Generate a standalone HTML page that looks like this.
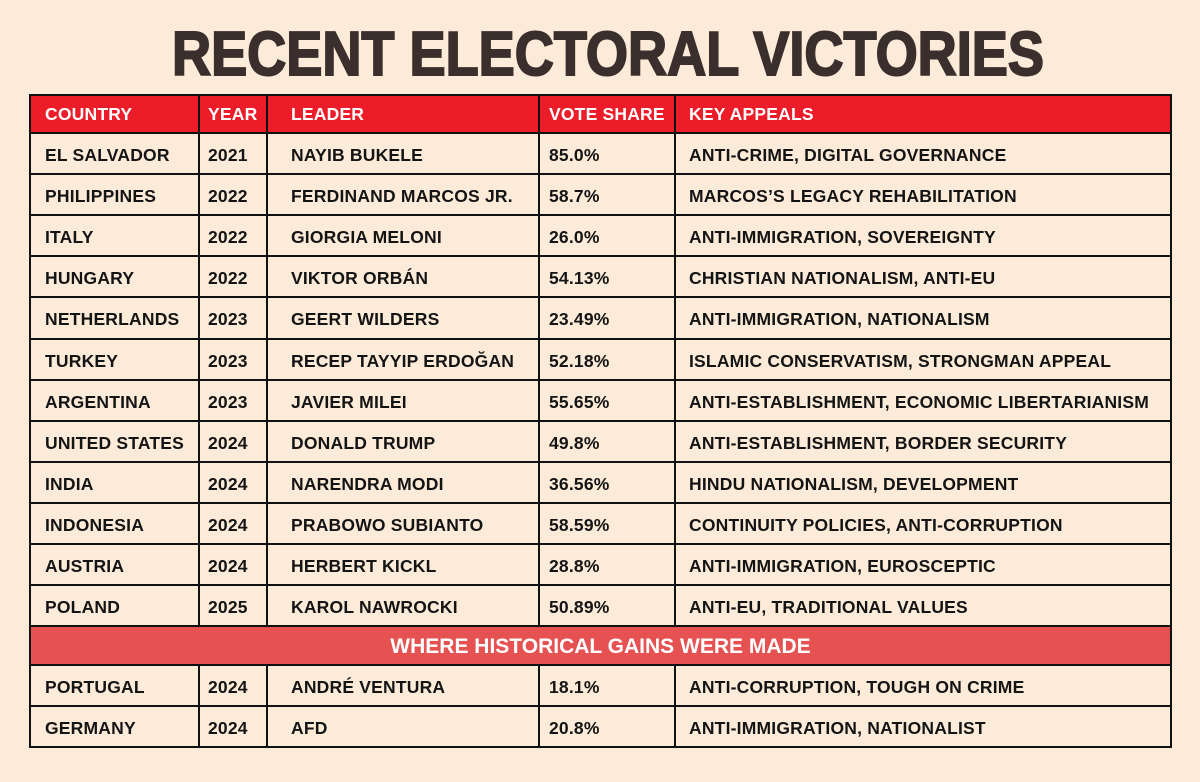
<!DOCTYPE html>
<html><head><meta charset="utf-8"><style>
body{margin:0;width:1200px;height:782px;background:#fcebd8;font-family:"Liberation Sans",sans-serif;overflow:hidden;position:relative}
#title{position:absolute;left:0;top:0}
.row{position:absolute;left:29px;width:1143px;height:41px;border-bottom:2px solid #111;box-sizing:border-box}
.c{position:absolute;top:0;height:100%;display:flex;align-items:center;padding-top:3px;font-weight:bold;font-size:17.5px;color:#141414;border-left:2px solid #111;box-sizing:border-box;white-space:nowrap;letter-spacing:0.2px}
.hdr .c{color:#fff;font-size:17.5px;padding-top:1px}
</style></head><body>
<svg id="title" width="1200" height="90"><text x="608" y="75" text-anchor="middle" textLength="872" lengthAdjust="spacingAndGlyphs" font-family="Liberation Sans" font-weight="bold" font-size="62" fill="#3a2f2c" stroke="#3a2f2c" stroke-width="2">RECENT ELECTORAL VICTORIES</text></svg>
<div id="tbl"></div>
<script>
const cols=[0,169,237,509,645,1143];
const pad=[14,8,23,9,13];
const header=["COUNTRY","YEAR","LEADER","VOTE SHARE","KEY APPEALS"];
const rows=[
["EL SALVADOR","2021","NAYIB BUKELE","85.0%","ANTI-CRIME, DIGITAL GOVERNANCE"],
["PHILIPPINES","2022","FERDINAND MARCOS JR.","58.7%","MARCOS’S LEGACY REHABILITATION"],
["ITALY","2022","GIORGIA MELONI","26.0%","ANTI-IMMIGRATION, SOVEREIGNTY"],
["HUNGARY","2022","VIKTOR ORBÁN","54.13%","CHRISTIAN NATIONALISM, ANTI-EU"],
["NETHERLANDS","2023","GEERT WILDERS","23.49%","ANTI-IMMIGRATION, NATIONALISM"],
["TURKEY","2023","RECEP TAYYIP ERDOĞAN","52.18%","ISLAMIC CONSERVATISM, STRONGMAN APPEAL"],
["ARGENTINA","2023","JAVIER MILEI","55.65%","ANTI-ESTABLISHMENT, ECONOMIC LIBERTARIANISM"],
["UNITED STATES","2024","DONALD TRUMP","49.8%","ANTI-ESTABLISHMENT, BORDER SECURITY"],
["INDIA","2024","NARENDRA MODI","36.56%","HINDU NATIONALISM, DEVELOPMENT"],
["INDONESIA","2024","PRABOWO SUBIANTO","58.59%","CONTINUITY POLICIES, ANTI-CORRUPTION"],
["AUSTRIA","2024","HERBERT KICKL","28.8%","ANTI-IMMIGRATION, EUROSCEPTIC"],
["POLAND","2025","KAROL NAWROCKI","50.89%","ANTI-EU, TRADITIONAL VALUES"]];
const rows2=[
["PORTUGAL","2024","ANDRÉ VENTURA","18.1%","ANTI-CORRUPTION, TOUGH ON CRIME"],
["GERMANY","2024","AFD","20.8%","ANTI-IMMIGRATION, NATIONALIST"]];
const tbl=document.getElementById('tbl');
function mkRow(vals,top,h,cls,bg,name){
  const r=document.createElement('div');
  r.className='row '+(cls||'');
  
  
  r.style.top=top+'px';r.style.height=h+'px';r.style.background=bg;
  vals.forEach((v,i)=>{
    const c=document.createElement('div');
    c.className='c';
    
    
    c.style.left=cols[i]+'px';c.style.width=(cols[i+1]-cols[i])+'px';
    c.style.paddingLeft=pad[i]+'px';
    if(i==4)c.style.borderRight='2px solid #111';
    c.textContent=v;r.appendChild(c);
  });
  tbl.appendChild(r);
}
mkRow(header,94,40,'hdr','#ec1c28','header-row');
document.querySelector('.hdr').style.borderTop='2px solid #111';
let y0=134;
rows.forEach((r,i)=>{
  const t=Math.round(y0+i*41.1), b=Math.round(y0+(i+1)*41.1);
  mkRow(r,t,b-t,'','#fcebd8','row-'+r[0].toLowerCase().replace(/ /g,'-'));
});
let y=Math.round(y0+rows.length*41.1);
const s=document.createElement('div');


s.style.cssText='position:absolute;left:29px;width:1143px;top:'+y+'px;height:39px;background:#e65252;border-left:2px solid #111;border-right:2px solid #111;border-bottom:2px solid #111;box-sizing:border-box;color:#fff;font-weight:bold;font-size:21px;display:flex;align-items:center;justify-content:center;padding-top:2px';
s.textContent='WHERE HISTORICAL GAINS WERE MADE';
tbl.appendChild(s);y+=39;
rows2.forEach(r=>{mkRow(r,y,41,'','#fcebd8','row-'+r[0].toLowerCase());y+=41;});
</script>
</body></html>
